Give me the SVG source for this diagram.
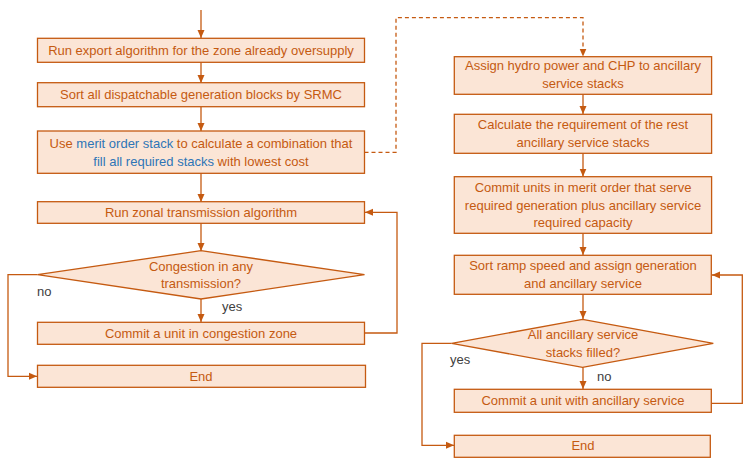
<svg xmlns="http://www.w3.org/2000/svg" width="752" height="467" viewBox="0 0 752 467">
<defs>
<marker id="ah" viewBox="0 0 8 8" refX="8" refY="4" markerWidth="8" markerHeight="8" markerUnits="userSpaceOnUse" orient="auto">
<path d="M0,0.5 L8,4 L0,7.5 Z" fill="#C55A11"/>
</marker>
<style>
.box{fill:#FBE5D6;stroke:#C55A11;stroke-width:1.3}
.t{font-family:"Liberation Sans",Arial,sans-serif;font-size:13px;fill:#C55A11;text-anchor:middle}
.b{fill:#2E75B6}
.lbl{font-family:"Liberation Sans",Arial,sans-serif;font-size:13px;fill:#404040}
.c{fill:none;stroke:#C55A11;stroke-width:1.3}
.a{marker-end:url(#ah)}
.d{stroke-dasharray:4 3}
</style>
</defs>
<rect width="752" height="467" fill="#FFFFFF"/>
<g id="connectors">
<path class="c a" d="M201,10 V38"/>
<path class="c a" d="M201,62 V83"/>
<path class="c a" d="M201,107 V131"/>
<path class="c a" d="M201,173 V202"/>
<path class="c a" d="M201,223 V251"/>
<path class="c a" d="M201,299 V322"/>
<path class="c a" d="M37.5,274.7 H8 V376.3 H37"/>
<path class="c a" d="M364.5,333 H397 V212.3 H365"/>
<path class="c a d" d="M364.5,152.3 H396 V17.7 H583 V56.5"/>
<path class="c a" d="M583,94.3 V114"/>
<path class="c a" d="M583,153.3 V176.5"/>
<path class="c a" d="M583,233.3 V255"/>
<path class="c a" d="M583,294.3 V319"/>
<path class="c a" d="M583,367.3 V389"/>
<path class="c a" d="M451.7,343.3 H422 V445.3 H454"/>
<path class="c a" d="M711.5,403.3 H742.3 V275 H712"/>
</g>
<g id="n1"><rect class="box" x="37.5" y="38.3" width="327" height="24"/><text class="t" x="201" y="54.5">Run export algorithm for the zone already oversupply</text></g>
<g id="n2"><rect class="box" x="37.5" y="82.7" width="327" height="24"/><text class="t" x="201" y="98.5">Sort all dispatchable generation blocks by SRMC</text></g>
<g id="n3"><rect class="box" x="37.5" y="131" width="327" height="42.3"/><text class="t" x="201" y="148">Use <tspan class="b">merit order stack</tspan> to calculate a combination that</text><text class="t" x="201" y="166"><tspan class="b">fill all required stacks</tspan> with lowest cost</text></g>
<g id="n4"><rect class="box" x="37.5" y="201.7" width="327" height="21.6"/><text class="t" x="201" y="217">Run zonal transmission algorithm</text></g>
<g id="n5"><path class="box" d="M201,250.7 L364.5,274.7 L201,299 L37.5,274.7 Z"/><text class="t" x="201" y="270.5">Congestion in any</text><text class="t" x="201" y="288">transmission?</text></g>
<g id="n6"><rect class="box" x="37.5" y="322.3" width="327" height="22"/><text class="t" x="201" y="338">Commit a unit in congestion zone</text></g>
<g id="n7"><rect class="box" x="37.5" y="365.3" width="328" height="22"/><text class="t" x="201" y="381">End</text></g>
<g id="r1"><rect class="box" x="454.3" y="56.7" width="257.3" height="37.6"/><text class="t" x="583" y="70">Assign hydro power and CHP to ancillary</text><text class="t" x="583" y="88">service stacks</text></g>
<g id="r2"><rect class="box" x="454.3" y="114.3" width="257.3" height="39"/><text class="t" x="583" y="129">Calculate the requirement of the rest</text><text class="t" x="583" y="147">ancillary service stacks</text></g>
<g id="r3"><rect class="box" x="454.3" y="176.7" width="257.3" height="56.6"/><text class="t" x="583" y="192">Commit units in merit order that serve</text><text class="t" x="583" y="209.5">required generation plus ancillary service</text><text class="t" x="583" y="227">required capacity</text></g>
<g id="r4"><rect class="box" x="454.3" y="255.3" width="257" height="39"/><text class="t" x="583" y="270">Sort ramp speed and assign generation</text><text class="t" x="583" y="288">and ancillary service</text></g>
<g id="r5"><path class="box" d="M582.5,319.3 L713.3,343.3 L582.5,367.3 L451.7,343.3 Z"/><text class="t" x="583" y="339">All ancillary service</text><text class="t" x="583" y="357">stacks filled?</text></g>
<g id="r6"><rect class="box" x="454.3" y="389.3" width="257" height="23"/><text class="t" x="583" y="405">Commit a unit with ancillary service</text></g>
<g id="r7"><rect class="box" x="454.3" y="435.3" width="256" height="22"/><text class="t" x="583" y="450">End</text></g>
<g id="labels">
<text class="lbl" x="37" y="296">no</text>
<text class="lbl" x="222" y="311">yes</text>
<text class="lbl" x="450" y="364">yes</text>
<text class="lbl" x="597" y="381">no</text>
</g>
</svg>
